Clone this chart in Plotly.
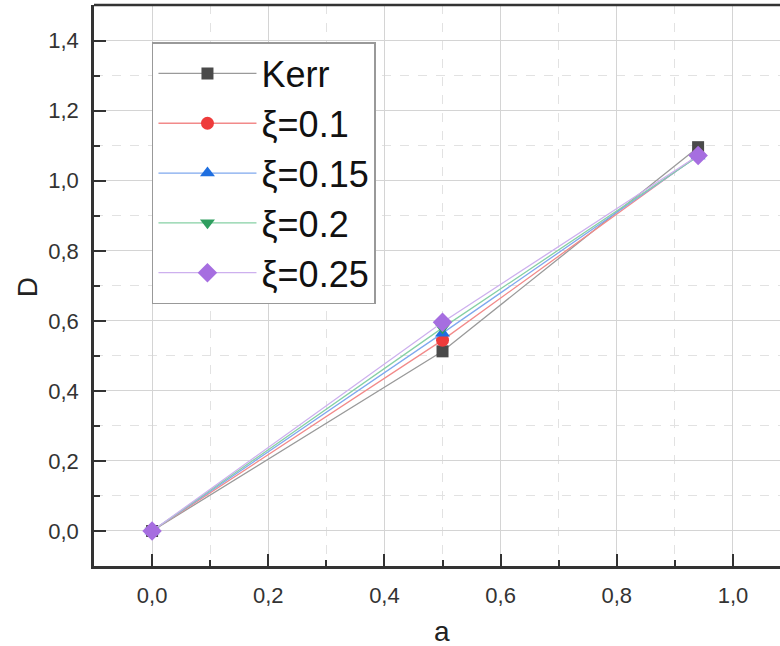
import plotly.graph_objects as go

a_values = [0.0, 0.5, 0.94]
series_names = ["Kerr", "ξ=0.1", "ξ=0.15", "ξ=0.2", "ξ=0.25"]
D_kerr = [0.0, 0.513, 1.096]
D_xi_01 = [0.0, 0.545, 1.073]
D_xi_015 = [0.0, 0.565, 1.071]
D_xi_02 = [0.0, 0.580, 1.070]
D_xi_025 = [0.0, 0.596, 1.072]
x_title = "a"
y_title = "D"

series_values = [D_kerr, D_xi_01, D_xi_015, D_xi_02, D_xi_025]
line_colors = ["#9a9a9a", "#f28a8a", "#7fa8ee", "#86d0a4", "#cdb0ee"]
marker_colors = ["#4a4a4a", "#ee3b3b", "#1f6fe0", "#2e9e5f", "#a66ee0"]
symbols = ["square", "circle", "triangle-up", "triangle-down", "diamond"]
msizes = [12, 13, 13, 13, 15]

FONT = "Liberation Sans, Arial, sans-serif"

fig = go.Figure()
for name, vals, lc, mc, sym, ms in zip(series_names, series_values, line_colors, marker_colors, symbols, msizes):
    fig.add_trace(go.Scatter(
        x=a_values, y=vals, name=name, mode="lines+markers",
        line=dict(color=lc, width=1.3),
        marker=dict(symbol=sym, color=mc, size=ms, line=dict(width=0)),
    ))

axis_common = dict(
    showline=True, linecolor="#333", linewidth=2.5, mirror=False,
    ticks="inside", ticklen=12, tickwidth=2, tickcolor="#333",
    showgrid=True, gridcolor="#d4d4d4", gridwidth=1.3,
    zeroline=False, tickformat=".1f", automargin=False,
    ticklabelstandoff=8,
    tickfont=dict(family=FONT, size=22, color="#333"),
    minor=dict(ticks="inside", ticklen=6, tickwidth=1.5, tickcolor="#333",
               showgrid=True, gridcolor="#e2e2e2", griddash="dash", gridwidth=1),
)

fig.update_layout(
    width=780, height=646,
    margin=dict(l=94, r=0, t=5, b=80),
    paper_bgcolor="white", plot_bgcolor="white",
    separators=",.",
    xaxis=dict(range=[-0.1, 1.081], dtick=0.2, tick0=0, **axis_common),
    yaxis=dict(range=[-0.1, 1.502], dtick=0.2, tick0=0, **axis_common),
    legend=dict(x=0.0845, y=0.934, xanchor="left", yanchor="top",
                bgcolor="white", bordercolor="#999", borderwidth=1.5,
                font=dict(family=FONT, size=36, color="#111"),
                tracegroupgap=0, itemwidth=98),
    showlegend=True,
    shapes=[dict(type="line", xref="paper", yref="paper", x0=0, x1=1, y0=1, y1=1,
                 line=dict(color="#333", width=2.5))],
    annotations=[
        dict(text=x_title, xref="paper", yref="paper", x=0.507, y=-0.117,
             xanchor="center", yanchor="middle", showarrow=False,
             font=dict(family=FONT, size=28, color="#222")),
        dict(text=y_title, xref="paper", yref="paper", x=-0.0977, y=0.497,
             xanchor="center", yanchor="middle", showarrow=False, textangle=-90,
             font=dict(family=FONT, size=28, color="#222")),
    ],
)
fig.update_xaxes(minor_dtick=0.1)
fig.update_yaxes(minor_dtick=0.1)

fig.write_html("out.html", config={"displayModeBar": False},
               post_script="document.body.style.margin='0px';document.body.style.overflow='hidden';")
